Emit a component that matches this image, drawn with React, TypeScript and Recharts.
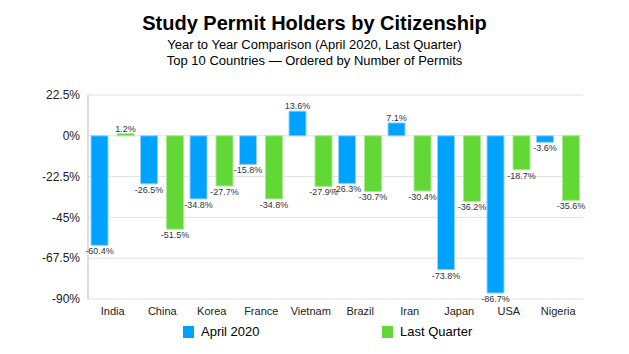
import React from 'react';
import { BarChart, Bar, XAxis, YAxis, CartesianGrid, LabelList } from 'recharts';

const countries = ['India', 'China', 'Korea', 'France', 'Vietnam', 'Brazil', 'Iran', 'Japan', 'USA', 'Nigeria'];
const april2020 = [-60.4, -26.5, -34.8, -15.8, 13.6, -26.3, 7.1, -73.8, -86.7, -3.6];
const lastQuarter = [1.2, -51.5, -27.7, -34.8, -27.9, -30.7, -30.4, -36.2, -18.7, -35.6];
const yTicks = [22.5, 0, -22.5, -45, -67.5, -90];

const data = countries.map((country, i) => ({
  country,
  april: april2020[i],
  last: lastQuarter[i],
}));

const FONT = '"Liberation Sans", Arial, Helvetica, sans-serif';
const BLUE = '#00a2ff';
const GREEN = '#61d836';

const ValueLabel = (props: any) => {
  const { x, y, width, height, value } = props;
  const top = Math.min(y, y + height);
  const bottom = Math.max(y, y + height);
  const cx = x + width / 2;
  const ty = value >= 0 ? top - 2 : bottom + 9;
  return (
    <text x={cx} y={ty} textAnchor="middle" fontSize={9} fill="#333" fontFamily={FONT}>
      {`${value}%`}
    </text>
  );
};

const legendItems = [
  { label: 'April 2020', color: BLUE, left: 183 },
  { label: 'Last Quarter', color: GREEN, left: 382 },
];

export default function App() {
  return (
    <div style={{ position: 'absolute', left: 0, top: 0, width: 629, height: 354, background: '#fff', fontFamily: FONT }}>
      <div style={{ position: 'absolute', top: 12, width: 629, textAlign: 'center', fontSize: 20, fontWeight: 'bold', color: '#000' }}>
        Study Permit Holders by Citizenship
      </div>
      <div style={{ position: 'absolute', top: 37, width: 629, textAlign: 'center', fontSize: 13, color: '#000' }}>
        Year to Year Comparison (April 2020, Last Quarter)
      </div>
      <div style={{ position: 'absolute', top: 53, width: 629, textAlign: 'center', fontSize: 13, color: '#000' }}>
        Top 10 Countries — Ordered by Number of Permits
      </div>
      <div style={{ position: 'absolute', left: 0, top: 0 }}>
        <BarChart
          width={629}
          height={354}
          data={data}
          margin={{ top: 95, right: 46, bottom: 25, left: 0 }}
          barSize={17}
          barGap={9}
        >
          <CartesianGrid horizontal vertical={false} stroke="#e2e2e2" />
          <XAxis
            dataKey="country"
            height={30}
            tickLine={false}
            axisLine={false}
            tick={{ fontSize: 11, fill: '#222', fontFamily: FONT }}
          />
          <YAxis
            width={88}
            domain={[-90, 22.5]}
            ticks={yTicks}
            tickLine={false}
            axisLine={{ stroke: '#bdbdbd' }}
            tickFormatter={(v: number) => `${v}%`}
            tick={{ fontSize: 12, fill: '#222', fontFamily: FONT }}
          />
          <Bar dataKey="april" fill={BLUE} stroke="#8fd3ff" strokeWidth={1} isAnimationActive={false}>
            <LabelList dataKey="april" content={ValueLabel} />
          </Bar>
          <Bar dataKey="last" fill={GREEN} stroke="#a9eb8e" strokeWidth={1} isAnimationActive={false}>
            <LabelList dataKey="last" content={ValueLabel} />
          </Bar>
        </BarChart>
      </div>
      {legendItems.map((item) => (
        <div key={item.label} style={{ position: 'absolute', left: item.left, top: 324, display: 'flex', alignItems: 'center' }}>
          <div style={{ width: 11, height: 12, background: item.color, marginRight: 7 }} />
          <span style={{ fontSize: 13, color: '#000' }}>{item.label}</span>
        </div>
      ))}
    </div>
  );
}
